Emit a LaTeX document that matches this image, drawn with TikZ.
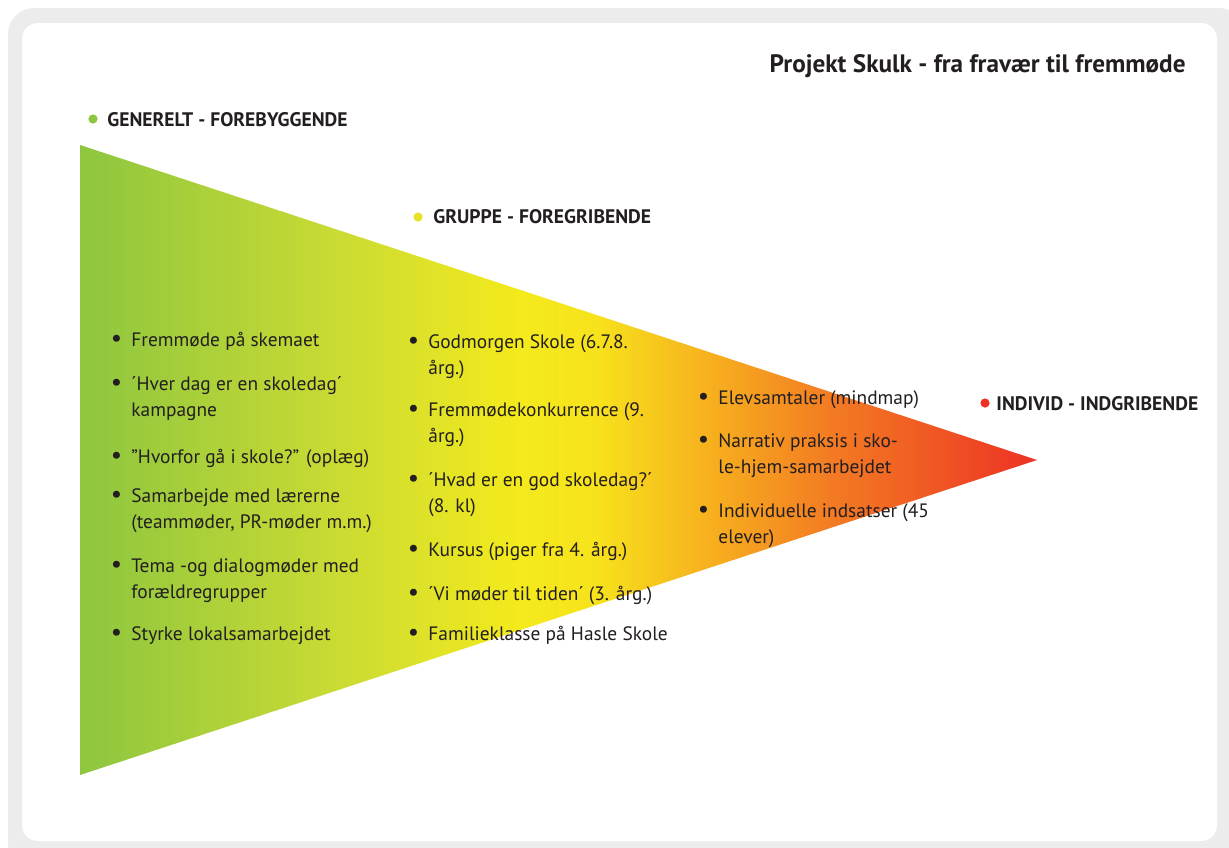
\documentclass[tikz,border=0pt]{standalone}
\usepackage{fontspec}
\setmainfont{PT Sans}
\definecolor{frame}{RGB}{236,236,236}
\definecolor{txt}{RGB}{35,31,32}
\definecolor{cg}{RGB}{141,198,63}
\definecolor{cyg}{RGB}{200,218,52}
\definecolor{cy}{RGB}{244,234,28}
\definecolor{cy2}{RGB}{247,226,28}
\definecolor{co}{RGB}{247,175,30}
\definecolor{cor}{RGB}{243,125,35}
\definecolor{cr}{RGB}{237,50,36}
\definecolor{dotg}{RGB}{141,198,63}
\definecolor{doty}{RGB}{230,226,40}
\definecolor{dotr}{RGB}{237,50,36}
\pgfdeclarehorizontalshading{funnel}{100bp}{color(0bp)=(cg); color(25bp)=(cg); color(38bp)=(cyg); color(48bp)=(cy); color(52bp)=(cy2); color(58bp)=(co); color(64bp)=(cor); color(75bp)=(cr); color(100bp)=(cr)}
\newcommand{\bul}[1]{\parbox[t]{200pt}{\raggedright\leavevmode\llap{{\fontsize{12.5}{12}\selectfont\raisebox{-0.2pt}{\textbullet}}\hspace{4.6pt}}#1}}
\begin{document}
\begin{tikzpicture}[x=0.5pt,y=-0.5pt,
  item/.style={anchor=base west, inner sep=0pt, text=txt, font=\fontsize{9.7}{13.25}\selectfont},
  head/.style={anchor=base west, inner sep=0pt, text=txt, font=\bfseries\fontsize{9.8}{12}\selectfont},
  ttl/.style={anchor=base east, inner sep=0pt, text=txt, font=\bfseries\fontsize{12.6}{14}\selectfont},
  dot/.style={circle, inner sep=0pt, minimum size=4.6pt}]
\useasboundingbox (0,0) rectangle (1229,847);
\clip (0,0) rectangle (1229,847);
% frame
\fill[frame, rounded corners=13pt] (8,8) rectangle (1245,870);
\fill[white, rounded corners=8pt] (22,23) rectangle (1217,841);
% funnel
\shade[shading=funnel] (80,145) -- (80,775) -- (1037,460) -- cycle;
% title
\node[ttl] (title) at (1186,72) {Projekt Skulk - fra fravær til fremmøde};
% headings
\node[dot, fill=dotg] (d1) at (93,119) {};
\node[head] (h1) at (107,126) {GENERELT - FOREBYGGENDE};
\node[dot, fill=doty] (d2) at (418,217) {};
\node[head] (h2) at (433,223) {GRUPPE - FOREGRIBENDE};
\node[dot, fill=dotr] (d3) at (985,403) {};
\node[head] (h3) at (996,410) {INDIVID - INDGRIBENDE};
% column 1
\node[item] (a1) at (131,346) {\bul{Fremmøde på skemaet}};
\node[item] (a2) at (131,390) {\bul{´Hver dag er en skoledag´\\kampagne}};
\node[item] (a3) at (131,463) {\bul{”Hvorfor gå i skole?” (oplæg)}};
\node[item] (a4) at (131,502) {\bul{Samarbejde med lærerne\\(teammøder, PR-møder m.m.)}};
\node[item] (a5) at (131,572) {\bul{Tema -og dialogmøder med\\forældregrupper}};
\node[item] (a6) at (131,640) {\bul{Styrke lokalsamarbejdet}};
% column 2
\node[item] (b1) at (428,348) {\bul{Godmorgen Skole (6.7.8.\\årg.)}};
\node[item] (b2) at (428,416) {\bul{Fremmødekonkurrence (9.\\årg.)}};
\node[item] (b3) at (428,486) {\bul{´Hvad er en god skoledag?´\\(8. kl)}};
\node[item] (b4) at (428,556) {\bul{Kursus (piger fra 4. årg.)}};
\node[item] (b5) at (428,600) {\bul{´Vi møder til tiden´ (3. årg.)}};
\node[item] (b6) at (428,640) {\bul{Familieklasse på Hasle Skole}};
% column 3
\node[item] (c1) at (718,404) {\bul{Elevsamtaler (mindmap)}};
\node[item] (c2) at (718,447) {\bul{Narrativ praksis i sko-\\le-hjem-samarbejdet}};
\node[item] (c3) at (718,517) {\bul{Individuelle indsatser (45\\elever)}};
\end{tikzpicture}
\end{document}
